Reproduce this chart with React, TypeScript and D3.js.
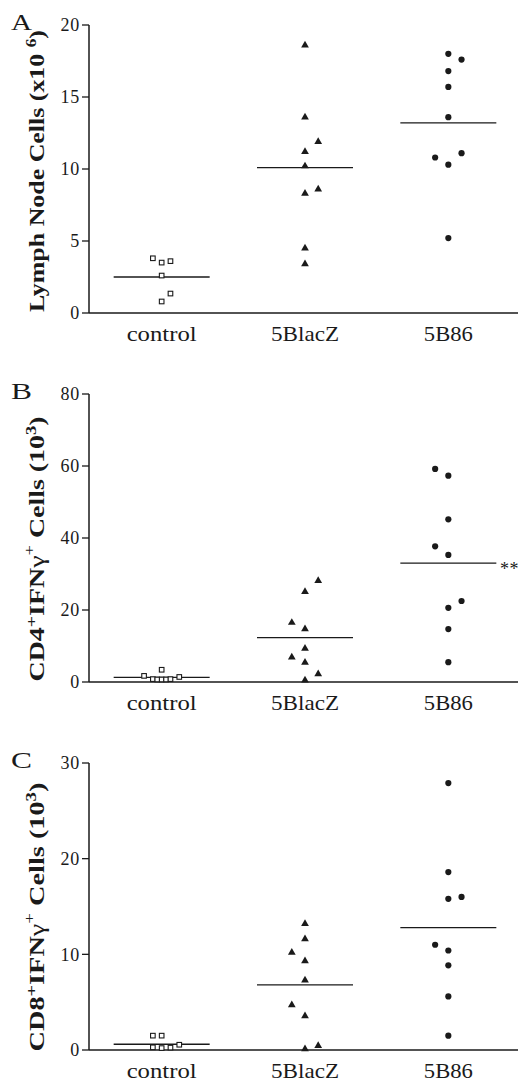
import React from "react";
import * as d3 from "d3";

const categories = ["control", "5BlacZ", "5B86"];

// Panel A: Lymph node cells (x10^6)
const controlA = [3.8, 3.5, 3.6, 2.6, 1.35, 0.8];
const controlAJit = [-2, 0, 2, 0, 2, 0];
const lacZA = [18.6, 13.6, 11.9, 11.2, 10.2, 8.6, 8.3, 4.5, 3.4];
const lacZAJit = [0, 0, 3, 0, 0, 3, 0, 0, 0];
const b86A = [18.0, 17.6, 16.8, 15.7, 13.6, 11.1, 10.8, 10.3, 5.2];
const b86AJit = [0, 3, 0, 0, 0, 3, -3, 0, 0];
const meansA = [2.5, 10.1, 13.2];
const ticksA = [0, 5, 10, 15, 20];

// Panel B: CD4+IFNg+ cells (10^3)
const controlB = [1.7, 0.8, 0.7, 3.4, 0.7, 0.7, 0.8, 1.4];
const controlBJit = [-4, -2, -1, 0, 0, 1, 2, 4];
const lacZB = [28.1, 25.1, 16.5, 14.7, 9.3, 6.9, 5.4, 2.2, 0.5];
const lacZBJit = [3, 0, -3, 0, 0, -3, 0, 3, 0];
const b86B = [59.2, 57.3, 45.2, 37.7, 35.3, 22.5, 20.6, 14.7, 5.5];
const b86BJit = [-3, 0, 0, -3, 0, 3, 0, 0, 0];
const meansB = [1.3, 12.3, 33.0];
const ticksB = [0, 20, 40, 60, 80];

// Panel C: CD8+IFNg+ cells (10^3)
const controlC = [1.5, 1.5, 0.28, 0.2, 0.25, 0.55];
const controlCJit = [-2, 0, -2, 0, 2, 4];
const lacZC = [13.2, 11.6, 10.2, 9.3, 7.3, 4.7, 3.55, 0.45, 0.1];
const lacZCJit = [0, 0, -3, 0, 0, -3, 0, 3, 0];
const b86C = [27.9, 18.6, 16.0, 15.8, 11.0, 10.4, 8.85, 5.6, 1.5];
const b86CJit = [0, 0, 3, 0, -3, 0, 0, 0, 0];
const meansC = [0.6, 6.8, 12.8];
const ticksC = [0, 10, 20, 30];

const INK = "#1a1a1a";
const FONT = "'Liberation Serif', 'Times New Roman', serif";
const JIT = 4.4;

const x = d3.scalePoint<string>().domain(categories).range([90, 520]).padding(0.5);
const tri = d3.symbol().type(d3.symbolTriangle).size(26)();

type PanelProps = {
  letter: string;
  top: number;
  bottom: number;
  max: number;
  ticks: number[];
  control: number[];
  controlJit: number[];
  lacZ: number[];
  lacZJit: number[];
  b86: number[];
  b86Jit: number[];
  means: number[];
  title: React.ReactNode;
  titleLen: number;
  titleCenter: number;
  stars?: boolean;
};

function Panel(p: PanelProps) {
  const y = d3.scaleLinear().domain([0, p.max]).range([p.bottom, p.top]);
  const axisX = 89;
  return (
    <g>
      <text x={11} y={p.top + 5} fontFamily={FONT} fontSize={23} fill={INK} textLength={21} lengthAdjust="spacingAndGlyphs">
        {p.letter}
      </text>
      {/* axes */}
      <line x1={axisX} x2={axisX} y1={p.top} y2={p.bottom} stroke={INK} strokeWidth={1.5} />
      <line x1={axisX} x2={518} y1={p.bottom} y2={p.bottom} stroke={INK} strokeWidth={1.5} />
      {p.ticks.map((t) => (
        <g key={t}>
          <line x1={axisX - 7} x2={axisX} y1={y(t)} y2={y(t)} stroke={INK} strokeWidth={1.3} />
          <text
            x={80}
            y={y(t)}
            dy="0.35em"
            textAnchor="end"
            fontFamily={FONT}
            fontSize={18}
            fill={INK}
            letterSpacing={0.8}
          >
            {t}
          </text>
        </g>
      ))}
      {categories.map((c, i) => (
        <text
          key={c}
          x={x(c)}
          y={p.bottom + 28}
          textAnchor="middle"
          fontFamily={FONT}
          fontSize={21}
          fill={INK}
          textLength={[70, 68, 49][i]}
          lengthAdjust="spacingAndGlyphs"
        >
          {c}
        </text>
      ))}
      {/* title */}
      <text
        transform={`translate(44,${p.titleCenter}) rotate(-90)`}
        textAnchor="middle"
        fontFamily={FONT}
        fontSize={21}
        fontWeight="bold"
        fill={INK}
        textLength={p.titleLen}
        lengthAdjust="spacingAndGlyphs"
      >
        {p.title}
      </text>
      {/* mean lines */}
      {categories.map((c, i) => (
        <line
          key={c}
          x1={(x(c) as number) - 48}
          x2={(x(c) as number) + 48}
          y1={y(p.means[i])}
          y2={y(p.means[i])}
          stroke={INK}
          strokeWidth={1.3}
        />
      ))}
      {p.stars && (
        <text x={500} y={y(p.means[2]) + 12} fontFamily={FONT} fontSize={18} fill={INK} letterSpacing={0.5}>
          **
        </text>
      )}
      {/* control squares */}
      {p.control.map((v, i) => (
        <rect
          key={"c" + i}
          x={(x("control") as number) + p.controlJit[i] * JIT - 2.3}
          y={y(v) - 2.3}
          width={4.6}
          height={4.6}
          fill="white"
          stroke={INK}
          strokeWidth={1.1}
        />
      ))}
      {p.lacZ.map((v, i) => (
        <path
          key={"t" + i}
          d={tri as string}
          transform={`translate(${(x("5BlacZ") as number) + p.lacZJit[i] * JIT},${y(v)})`}
          fill={INK}
        />
      ))}
      {p.b86.map((v, i) => (
        <circle
          key={"o" + i}
          cx={(x("5B86") as number) + p.b86Jit[i] * JIT}
          cy={y(v)}
          r={3.1}
          fill={INK}
        />
      ))}
    </g>
  );
}

export default function App() {
  const sup = { fontSize: 14 };
  return (
    <svg
      width={518}
      height={1083}
      style={{ position: "absolute", left: 0, top: 0, background: "white" }}
    >
      <rect width={518} height={1083} fill="white" />
      <Panel
        letter="A"
        top={25}
        bottom={313}
        max={20}
        ticks={ticksA}
        control={controlA}
        controlJit={controlAJit}
        lacZ={lacZA}
        lacZJit={lacZAJit}
        b86={b86A}
        b86Jit={b86AJit}
        means={meansA}
        titleLen={282}
        titleCenter={171}
        title={
          <>
            <tspan>Lymph Node Cells (x10 </tspan>
            <tspan dy={-8} style={sup}>6</tspan>
            <tspan dy={8}>)</tspan>
          </>
        }
      />
      <Panel
        letter="B"
        top={394}
        bottom={682}
        max={80}
        ticks={ticksB}
        control={controlB}
        controlJit={controlBJit}
        lacZ={lacZB}
        lacZJit={lacZBJit}
        b86={b86B}
        b86Jit={b86BJit}
        means={meansB}
        titleLen={265}
        titleCenter={549}
        stars
        title={
          <>
            <tspan>CD4</tspan>
            <tspan dy={-8} style={{ fontSize: 15 }}>+</tspan>
            <tspan dy={8}>IFN</tspan>
            <tspan fontWeight="normal">γ</tspan>
            <tspan dy={-10} fontWeight="normal" style={sup}>+</tspan>
            <tspan dy={10}> Cells (10</tspan>
            <tspan dy={-8} style={sup}>3</tspan>
            <tspan dy={8}>)</tspan>
          </>
        }
      />
      <Panel
        letter="C"
        top={763}
        bottom={1050}
        max={30}
        ticks={ticksC}
        control={controlC}
        controlJit={controlCJit}
        lacZ={lacZC}
        lacZJit={lacZCJit}
        b86={b86C}
        b86Jit={b86CJit}
        means={meansC}
        titleLen={269}
        titleCenter={917}
        title={
          <>
            <tspan>CD8</tspan>
            <tspan dy={-8} style={{ fontSize: 15 }}>+</tspan>
            <tspan dy={8}>IFN</tspan>
            <tspan fontWeight="normal">γ</tspan>
            <tspan dy={-10} fontWeight="normal" style={sup}>+</tspan>
            <tspan dy={10}> Cells (10</tspan>
            <tspan dy={-8} style={sup}>3</tspan>
            <tspan dy={8}>)</tspan>
          </>
        }
      />
    </svg>
  );
}
